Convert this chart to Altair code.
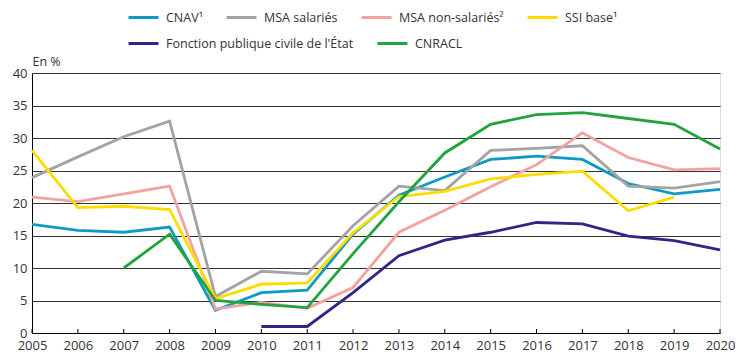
import altair as alt
import pandas as pd

years = list(range(2005, 2021))

series_names = [
    "CNAV¹",
    "MSA salariés",
    "MSA non-salariés²",
    "SSI base¹",
    "Fonction publique civile de l'État",
    "CNRACL",
]
series_colors = ["#0f9ac4", "#a3a3a3", "#f2a3a0", "#ffdc00", "#2e2785", "#22a33d"]

cnav = [16.7, 15.8, 15.5, 16.3, 3.5, 6.2, 6.6, 15.2, 21.2, 24.0, 26.7, 27.2, 26.7, 23.0, 21.4, 22.1]
msa_sal = [23.9, 27.1, 30.2, 32.6, 5.6, 9.5, 9.1, 16.5, 22.6, 21.9, 28.1, 28.4, 28.8, 22.6, 22.3, 23.3]
msa_nonsal = [20.9, 20.2, 21.4, 22.6, 3.7, 4.7, 3.8, 7.0, 15.5, 18.9, 22.5, 25.9, 30.8, 27.0, 25.1, 25.3]
ssi = [28.1, 19.3, 19.5, 19.0, 5.3, 7.5, 7.7, 15.4, 21.0, 21.8, 23.7, 24.4, 24.9, 18.8, 20.9, None]
fpce = [None, None, None, None, None, 1.0, 1.0, 6.2, 11.9, 14.3, 15.5, 17.0, 16.8, 14.9, 14.2, 12.8]
cnracl = [None, None, 10.0, 15.2, 5.0, 4.4, 3.9, 12.2, 20.2, 27.7, 32.1, 33.6, 33.9, 33.0, 32.1, 28.3]

all_series = [cnav, msa_sal, msa_nonsal, ssi, fpce, cnracl]

rows = []
for order, (name, vals) in enumerate(zip(series_names, all_series)):
    for y, v in zip(years, vals):
        if v is not None:
            rows.append({"annee": y, "valeur": v, "serie": name, "ordre": order})
df = pd.DataFrame(rows)
ticks_df = pd.DataFrame({"annee": years})

group1 = series_names[:4]
group2 = series_names[4:]
df1 = df[df["serie"].isin(group1)]
df2 = df[df["serie"].isin(group2)]

W, H = 688, 260
FONT = "Open Sans"
TXT = "#333333"

x_scale = alt.Scale(domain=[2005, 2020], nice=False, zero=False)
y_scale = alt.Scale(domain=[0, 40], nice=False)

x_axis = alt.Axis(
    values=years,
    format="d",
    title=None,
    grid=False,
    ticks=False,
    labelOverlap=False,
    labelFlush=False,
    domainColor="#000000",
    domainWidth=1,
    labelPadding=6,
    labelFontSize=13,
    labelFont=FONT,
    labelColor=TXT,
)
y_axis = alt.Axis(
    values=list(range(0, 45, 5)),
    title="En %",
    titleAngle=0,
    titleAlign="left",
    titleBaseline="alphabetic",
    titleX=0,
    titleY=-8,
    titleFont=FONT,
    titleFontSize=12.5,
    titleFontWeight="normal",
    titleColor=TXT,
    grid=True,
    gridColor="#333333",
    gridWidth=1,
    ticks=False,
    domainColor="#000000",
    domainWidth=1,
    labelPadding=5,
    labelFontSize=13,
    labelFont=FONT,
    labelColor=TXT,
)


def legend(x, y):
    return alt.Legend(
        title=None,
        orient="none",
        legendX=x,
        legendY=y,
        direction="horizontal",
        columnPadding=17,
        padding=0,
        symbolType="stroke",
        symbolSize=900,
        symbolStrokeWidth=3,
        labelFont=FONT,
        labelFontSize=12.5,
        labelColor=TXT,
        labelOffset=6,
        labelLimit=400,
    )


def line_layer(data, names, colors, leg):
    return alt.Chart(data).mark_line(
        strokeWidth=2.8, strokeJoin="miter", strokeCap="butt"
    ).encode(
        x=alt.X("annee:Q", scale=x_scale, axis=x_axis),
        y=alt.Y("valeur:Q", scale=y_scale, axis=y_axis),
        color=alt.Color(
            "serie:N",
            scale=alt.Scale(domain=names, range=colors),
            sort=names,
            legend=leg,
        ),
        order=alt.Order("ordre:Q"),
        detail="serie:N",
    )


lines1 = line_layer(df1, group1, series_colors[:4], legend(95, -72))
lines2 = line_layer(df2, group2, series_colors[4:], legend(95, -46))

ticks = alt.Chart(ticks_df).mark_rule(color="#000000", strokeWidth=1).encode(
    x=alt.X("annee:Q", scale=x_scale, axis=x_axis),
    y=alt.value(H - 4),
    y2=alt.value(H),
)

chart = alt.layer(ticks, lines1, lines2).resolve_scale(
    color="independent"
).properties(
    width=W,
    height=H,
    autosize=alt.AutoSizeParams(type="none"),
    padding={"left": 24, "top": 65, "right": 26, "bottom": 20},
).configure_view(stroke=None).configure(background="white")

chart.save("out.html", embed_options={"renderer": "svg", "actions": False})
